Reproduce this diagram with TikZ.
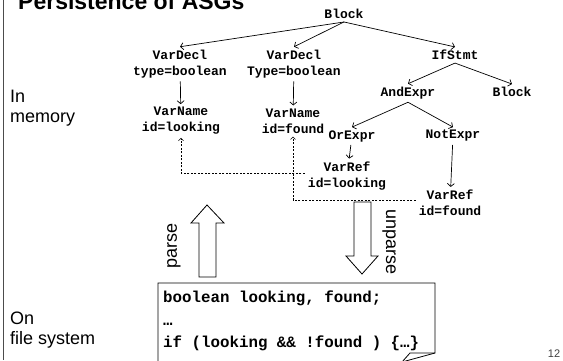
\documentclass[tikz,border=0pt]{standalone}
\usepackage{fontspec}
\setmainfont{Liberation Sans}
\newfontfamily\astfont{Liberation Mono}
\usetikzlibrary{arrows.meta, calc}

\tikzset{
	astnode/.style={font=\astfont\bfseries\fontsize{13}{16}\selectfont, align=center, inner sep=3pt},
	astedge/.style={-{Straight Barb[length=3pt,width=7pt]}, line width=0.7pt},
	refedge/.style={-{Straight Barb[length=2.5pt,width=5pt]}, line width=0.6pt, dash pattern=on 2pt off 1.5pt},
	bigarrow/.style={draw, fill=white, line width=0.8pt},
	sidelabel/.style={font=\fontsize{18}{20}\selectfont, align=left, inner sep=0pt, anchor=north west}
}

\begin{document}
\begin{tikzpicture}[x=1pt, y=-1pt]
	\clip (0,0) rectangle (563,360);
	
	% slide frame and title
	\draw[black!70, line width=1pt] (3,0) -- (3,360);
	\node[anchor=base west, inner sep=0pt, font=\bfseries\fontsize{23}{28}\selectfont] (title) at (18,9) {Persistence of ASGs};
	
	\node[sidelabel] (mem) at (10,90) {In\\memory};
	\node[sidelabel] (fs) at (10,312) {On\\file system};
	
	% the tree in memory
	\node[astnode] (blk1) at (344,14) {Block};
	\node[astnode] (decl1) at (180,64) {VarDecl\\type=boolean};
	\node[astnode] (decl2) at (294,64) {VarDecl\\Type=boolean};
	\node[astnode] (ifs) at (455,55) {IfStmt};
	\node[astnode] (and) at (408,93) {AndExpr};
	\node[astnode] (blk2) at (512,92) {Block};
	\node[astnode] (name1) at (181,121) {VarName\\id=looking};
	\node[astnode] (name2) at (293,121) {VarName\\id=found};
	\node[astnode] (or) at (352,136) {OrExpr};
	\node[astnode] (not) at (453,136) {NotExpr};
	\node[astnode] (ref1) at (347,176) {VarRef\\id=looking};
	\node[astnode] (ref2) at (450,203) {VarRef\\id=found};
	
	\draw[astedge] (blk1.south) -- (decl1.north);
	\draw[astedge] (blk1.south) -- (decl2.north);
	\draw[astedge] (blk1.south) -- (ifs.north);
	\draw[astedge] (ifs.south) -- (and.north);
	\draw[astedge] (ifs.south) -- (blk2.north);
	\draw[astedge] (and.south) -- (or.north);
	\draw[astedge] (and.south) -- (not.north);
	\draw[astedge] (decl1) -- (name1);
	\draw[astedge] (decl2) -- (name2);
	\draw[astedge] (or) -- (ref1);
	\draw[astedge] (not) -- (ref2);
	
	% references back to the declared names
	\draw[refedge] ([yshift=3pt]ref1.west) -| (name1.south);
	\draw[refedge] ([yshift=3pt]ref2.west) -| (name2.south);
	
	% parse / unparse
	\draw[bigarrow] (199,277) -- (199,223) -- (191,223) -- (207,205) -- (224,223) -- (216,223) -- (216,277) -- cycle;
	\draw[bigarrow] (354,202) -- (354,256) -- (346,256) -- (362,274) -- (378,256) -- (371,256) -- (371,202) -- cycle;
	\node[rotate=90, inner sep=0pt, font=\fontsize{18}{20}\selectfont] (parselbl) at (174,246) {parse};
	\node[rotate=-90, inner sep=0pt, font=\fontsize{18}{20}\selectfont] (unparselbl) at (389,242) {unparse};
	
	% source file
	\draw[line width=0.8pt] (158,368) -- (158,283) -- (435,283) -- (435,353) -- (402,362) -- cycle;
	\draw[line width=0.8pt] (402,362) -- (410,353) -- (435,353);
	\node[anchor=north west, inner sep=0pt, align=left, font=\astfont\bfseries\fontsize{15.8}{22.5}\selectfont] (code) at (163,291)
		{boolean looking, found;\\…\\if (looking \&\& !found ) \{…\}};
	
	\node[font=\fontsize{11}{13}\selectfont, text=black!75, inner sep=0pt] (pagenum) at (554,354) {12};
\end{tikzpicture}
\end{document}
